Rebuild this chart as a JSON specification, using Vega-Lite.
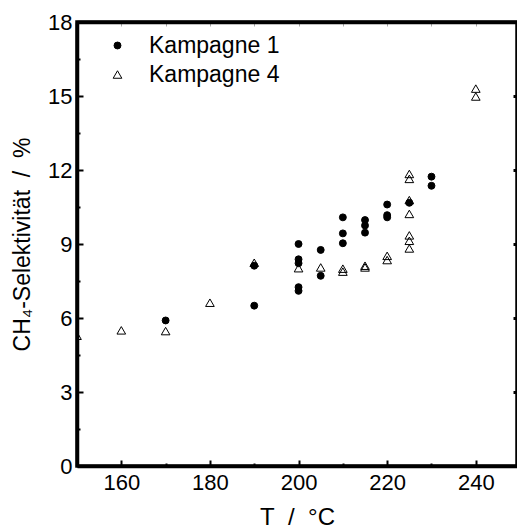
{
  "$schema": "https://vega.github.io/schema/vega-lite/v6.json",
  "autosize": {"type": "none"},
  "padding": {"left": 77, "top": 22, "right": 0, "bottom": 64},
  "width": 440,
  "height": 444,
  "background": "white",
  "config": {
    "view": {"stroke": "black", "strokeWidth": 3.5},
    "font": "Liberation Sans",
    "axis": {
      "grid": false,
      "zindex": 1,
      "labelFont": "Liberation Sans",
      "labelFontSize": 22,
      "labelColor": "black",
      "titleFont": "Liberation Sans",
      "titleFontSize": 23,
      "titleFontWeight": "normal",
      "titleColor": "black",
      "domainColor": "black",
      "tickColor": "black"
    },
    "legend": {
      "labelFont": "Liberation Sans",
      "labelFontSize": 23,
      "labelColor": "black"
    }
  },
  "data": {
    "values": [
      {"Kampagne": "Kampagne 1", "T": 170, "S": 5.9},
      {"Kampagne": "Kampagne 1", "T": 190, "S": 6.5},
      {"Kampagne": "Kampagne 1", "T": 190, "S": 8.12},
      {"Kampagne": "Kampagne 1", "T": 200, "S": 9.0},
      {"Kampagne": "Kampagne 1", "T": 200, "S": 8.38},
      {"Kampagne": "Kampagne 1", "T": 200, "S": 8.22},
      {"Kampagne": "Kampagne 1", "T": 200, "S": 7.25},
      {"Kampagne": "Kampagne 1", "T": 200, "S": 7.1},
      {"Kampagne": "Kampagne 1", "T": 205, "S": 8.76},
      {"Kampagne": "Kampagne 1", "T": 205, "S": 7.71},
      {"Kampagne": "Kampagne 1", "T": 210, "S": 10.08},
      {"Kampagne": "Kampagne 1", "T": 210, "S": 9.43},
      {"Kampagne": "Kampagne 1", "T": 210, "S": 9.03},
      {"Kampagne": "Kampagne 1", "T": 215, "S": 9.97},
      {"Kampagne": "Kampagne 1", "T": 215, "S": 9.75},
      {"Kampagne": "Kampagne 1", "T": 215, "S": 9.46},
      {"Kampagne": "Kampagne 1", "T": 220, "S": 10.6},
      {"Kampagne": "Kampagne 1", "T": 220, "S": 10.17},
      {"Kampagne": "Kampagne 1", "T": 220, "S": 10.08},
      {"Kampagne": "Kampagne 1", "T": 225, "S": 10.67},
      {"Kampagne": "Kampagne 1", "T": 230, "S": 11.73},
      {"Kampagne": "Kampagne 1", "T": 230, "S": 11.36},
      {"Kampagne": "Kampagne 4", "T": 150, "S": 5.28},
      {"Kampagne": "Kampagne 4", "T": 160, "S": 5.5},
      {"Kampagne": "Kampagne 4", "T": 170, "S": 5.47},
      {"Kampagne": "Kampagne 4", "T": 180, "S": 6.62},
      {"Kampagne": "Kampagne 4", "T": 190, "S": 8.24},
      {"Kampagne": "Kampagne 4", "T": 200, "S": 8.02},
      {"Kampagne": "Kampagne 4", "T": 205, "S": 8.05},
      {"Kampagne": "Kampagne 4", "T": 210, "S": 8.0},
      {"Kampagne": "Kampagne 4", "T": 210, "S": 7.88},
      {"Kampagne": "Kampagne 4", "T": 215, "S": 8.12},
      {"Kampagne": "Kampagne 4", "T": 215, "S": 8.05},
      {"Kampagne": "Kampagne 4", "T": 220, "S": 8.52},
      {"Kampagne": "Kampagne 4", "T": 220, "S": 8.35},
      {"Kampagne": "Kampagne 4", "T": 225, "S": 11.84},
      {"Kampagne": "Kampagne 4", "T": 225, "S": 11.64},
      {"Kampagne": "Kampagne 4", "T": 225, "S": 10.78},
      {"Kampagne": "Kampagne 4", "T": 225, "S": 10.22},
      {"Kampagne": "Kampagne 4", "T": 225, "S": 9.35},
      {"Kampagne": "Kampagne 4", "T": 225, "S": 9.13},
      {"Kampagne": "Kampagne 4", "T": 225, "S": 8.82},
      {"Kampagne": "Kampagne 4", "T": 240, "S": 15.3},
      {"Kampagne": "Kampagne 4", "T": 240, "S": 14.98}
    ]
  },
  "resolve": {"axis": {"x": "independent", "y": "independent"}},
  "layer": [
    {
      "mark": {"type": "point", "filled": true, "clip": true, "strokeWidth": 1, "opacity": 1},
      "encoding": {
        "x": {
          "field": "T", "type": "quantitative",
          "scale": {"domain": [150, 249.3], "nice": false, "zero": false},
          "axis": {
            "orient": "bottom", "values": [160, 180, 200, 220, 240],
            "tickSize": -6, "tickWidth": 2,
            "domainWidth": 3.5, "labelPadding": 12,
            "title": "T\u00a0\u00a0/\u00a0\u00a0°C", "titlePadding": 12, "titleFontSize": 24
          }
        },
        "y": {
          "field": "S", "type": "quantitative",
          "scale": {"domain": [0, 18], "nice": false, "zero": true},
          "axis": {
            "orient": "left", "values": [0, 3, 6, 9, 12, 15, 18],
            "tickSize": -6, "tickWidth": 2,
            "domainWidth": 3.5, "labelPadding": 11,
            "title": "CH₄-Selektivität\u00a0\u00a0/\u00a0\u00a0%", "titlePadding": 13
          }
        },
        "shape": {
          "field": "Kampagne", "type": "nominal",
          "scale": {"domain": ["Kampagne 1", "Kampagne 4"], "range": ["circle", "triangle-up"]},
          "legend": {"orient": "none", "legendX": 29, "legendY": 12, "title": null, "padding": 0, "labelOffset": 20, "rowPadding": 5, "symbolStrokeWidth": 1}
        },
        "fill": {
          "field": "Kampagne", "type": "nominal",
          "scale": {"domain": ["Kampagne 1", "Kampagne 4"], "range": ["black", "transparent"]},
          "legend": {"orient": "none", "legendX": 29, "legendY": 12, "title": null, "padding": 0, "labelOffset": 20, "rowPadding": 5, "symbolStrokeWidth": 1}
        },
        "stroke": {
          "field": "Kampagne", "type": "nominal",
          "scale": {"domain": ["Kampagne 1", "Kampagne 4"], "range": ["black", "black"]},
          "legend": {"orient": "none", "legendX": 29, "legendY": 12, "title": null, "padding": 0, "labelOffset": 20, "rowPadding": 5, "symbolStrokeWidth": 1}
        },
        "size": {
          "field": "Kampagne", "type": "nominal",
          "scale": {"domain": ["Kampagne 1", "Kampagne 4"], "range": [48, 75]},
          "legend": {"orient": "none", "legendX": 29, "legendY": 12, "title": null, "padding": 0, "labelOffset": 20, "rowPadding": 5, "symbolStrokeWidth": 1}
        }
      }
    },
    {
      "mark": {"type": "point", "opacity": 0},
      "encoding": {
        "x": {"field": "T", "type": "quantitative", "axis": {"orient": "bottom", "values": [170, 190, 210, 230], "labels": false, "domain": false, "title": "", "tickSize": -3, "tickWidth": 2}},
        "y": {"field": "S", "type": "quantitative", "axis": {"orient": "left", "values": [1.5, 4.5, 7.5, 10.5, 13.5, 16.5], "labels": false, "domain": false, "title": "", "tickSize": -3, "tickWidth": 2}}
      }
    },
    {
      "mark": {"type": "point", "opacity": 0},
      "encoding": {
        "x": {"field": "T", "type": "quantitative", "axis": {"orient": "top", "values": [160, 170, 180, 190, 200, 210, 220, 230, 240], "labels": false, "domain": true, "domainWidth": 3.5, "title": "", "tickSize": -4, "tickWidth": 1, "tickColor": "#aaaaaa"}},
        "y": {"field": "S", "type": "quantitative", "axis": {"orient": "right", "values": [0, 3, 6, 9, 12, 15, 18], "labels": false, "domain": false, "title": "", "tickSize": -4, "tickWidth": 3}}
      }
    }
  ]
}
